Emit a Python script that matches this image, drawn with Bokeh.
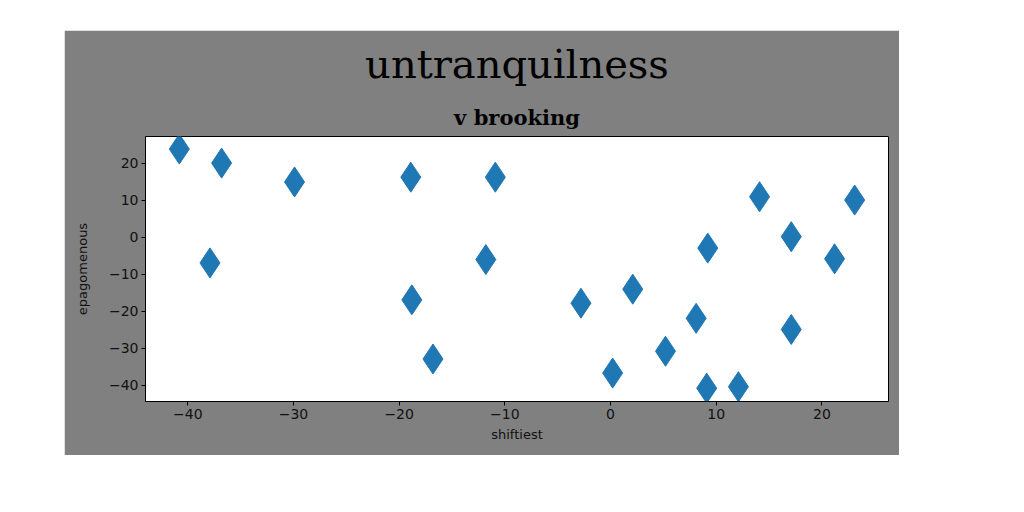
from bokeh.plotting import figure
from bokeh.models import Range1d, FixedTicker, Title
from bokeh.embed import file_html
from bokeh.resources import INLINE

# data
xs = [-40.8, -36.8, -29.9, -37.9, -18.9, -10.9, -11.8, -18.8, -16.8, -2.8, 2.1,
      0.2, 5.2, 8.1, 9.2, 9.1, 12.1, 14.1, 17.1, 17.1, 21.2, 23.1]
ys = [23.9, 20.1, 15.0, -6.9, 16.3, 16.3, -6.0, -16.9, -32.9, -17.8, -14.0,
      -36.7, -30.8, -21.9, -2.9, -40.8, -40.4, 11.0, 0.2, -24.9, -5.8, 10.1]
x_ticks = [-40, -30, -20, -10, 0, 10, 20]
y_ticks = [-40, -30, -20, -10, 0, 10, 20]
title_text = "untranquilness"
subtitle_text = "v brooking"
x_label = "shiftiest"
y_label = "epagomenous"


def minus(t):
    return str(t).replace("-", "\u2212")


p = figure(width=835, height=425, output_backend="svg", toolbar_location=None,
           x_range=Range1d(-44.0, 26.3), y_range=Range1d(-44.4, 27.3),
           min_border_left=81, min_border_right=11, min_border_bottom=54,
           min_border_top=104)
p.margin = (30, 0, 0, 64)

p.border_fill_color = "#808080"
p.background_fill_color = "white"
p.outline_line_color = "black"
p.outline_line_width = 1
p.grid.visible = False

p.title.text = title_text
p.title.text_font = "DejaVu Serif"
p.title.text_font_style = "normal"
p.title.text_font_size = "40px"
p.title.text_color = "black"
p.title.align = "center"
p.title.standoff = 17

sub = Title(text=subtitle_text, text_font="DejaVu Serif", text_font_size="21px",
            text_font_style="bold", text_color="black", align="center",
            standoff=14)
p.add_layout(sub, "above")

p.scatter(xs, ys, marker="diamond", size=30, fill_color="#1f77b4",
          line_color="#1f77b4", line_width=1)

for ax, ticks in ((p.xaxis[0], x_ticks), (p.yaxis[0], y_ticks)):
    ax.ticker = FixedTicker(ticks=ticks)
    ax.major_label_overrides = {t: minus(t) for t in ticks}
    ax.minor_tick_line_color = None
    ax.major_tick_in = 0
    ax.major_tick_out = 4
    ax.major_tick_line_color = "black"
    ax.axis_line_color = "black"
    ax.major_label_text_font = "DejaVu Sans"
    ax.major_label_text_font_size = "14px"
    ax.major_label_text_color = "#111111"
    ax.major_label_standoff = 3
    ax.axis_label_text_font = "DejaVu Sans"
    ax.axis_label_text_font_size = "13px"
    ax.axis_label_text_font_style = "normal"
    ax.axis_label_text_color = "#111111"

p.xaxis.axis_label = x_label
p.yaxis.axis_label = y_label
p.xaxis.axis_label_standoff = 5
p.yaxis.axis_label_standoff = 16

open("out.html", "w").write(file_html(p, INLINE))
